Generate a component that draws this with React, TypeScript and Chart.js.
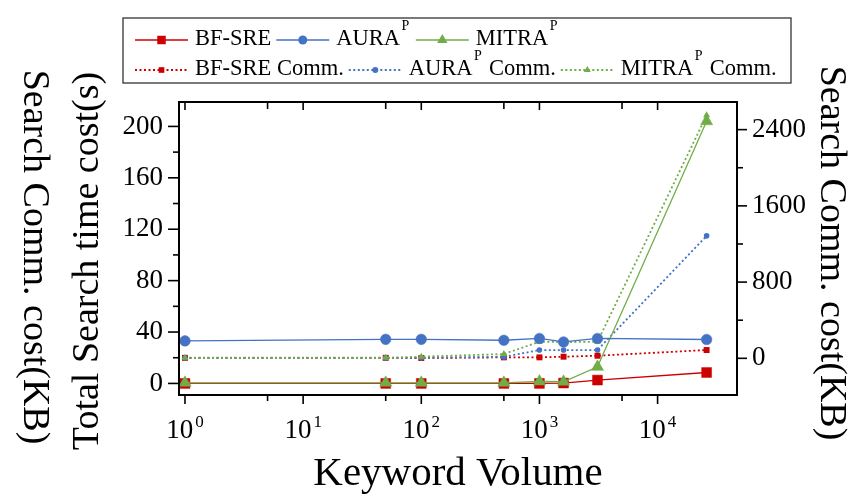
import React, { useEffect, useRef } from "react";
import { Chart, registerables } from "chart.js";

Chart.register(...registerables);

// ---- data ----
const keywordVolume = [1, 50, 100, 500, 1000, 1600, 3100, 26000];
const bfsreTime = [0, 0, 0, 0, 0, 0.3, 2.6, 8.5];
const auraTime = [33.1, 34.3, 34.3, 33.6, 35, 32.3, 35, 34.2];
const mitraTime = [0.5, 0.5, 0.5, 0.5, 1.5, 1.3, 12.9, 204];
const bfsreComm = [5, 5, 3, 10, 10, 17, 27, 87];
const auraComm = [5, 5, 5, 15, 87, 87, 87, 1285];
const mitraComm = [6, 6, 17, 45, 174, 170, 174, 2550];

const seriesLabels = ["BF-SRE", "AURA^P", "MITRA^P", "BF-SRE Comm.", "AURA^P Comm.", "MITRA^P Comm."];
const leftTicks = [0, 40, 80, 120, 160, 200];
const leftMinorTicks = [20, 60, 100, 140, 180];
const rightTicks = [0, 800, 1600, 2400];
const rightMinorTicks = [400, 1200, 2000];
const xMajorTicks = [1, 10, 100, 1000, 10000];
const xTickBase = "10";
const xTickExponents = ["0", "1", "2", "3", "4"];
const xMinorTicks = [5, 50, 500, 5000];
const xTitle = "Keyword Volume";
const leftTitle = "Total Search time cost(s)";
const rightTitle = "Search Comm. cost(KB)";

const FONT = '"Liberation Serif", "Times New Roman", serif';
const RED = "#cc0000";
const BLUE = "#4472c4";
const GREEN = "#70ad47";

const toXY = (ys: number[]) => ys.map((y, i) => ({ x: keywordVolume[i], y }));

function drawMarker(ctx: CanvasRenderingContext2D, style: string, x: number, y: number, r: number, color: string) {
  ctx.save();
  ctx.fillStyle = color;
  ctx.beginPath();
  if (style === "rect") {
    const s = r / Math.SQRT2;
    ctx.rect(x - s, y - s, 2 * s, 2 * s);
  } else if (style === "circle") {
    ctx.arc(x, y, r, 0, Math.PI * 2);
  } else {
    let rad = 0;
    ctx.moveTo(x + Math.sin(rad) * r, y - Math.cos(rad) * r);
    rad += (2 * Math.PI) / 3;
    ctx.lineTo(x + Math.sin(rad) * r, y - Math.cos(rad) * r);
    rad += (2 * Math.PI) / 3;
    ctx.lineTo(x + Math.sin(rad) * r, y - Math.cos(rad) * r);
    ctx.closePath();
  }
  ctx.fill();
  ctx.restore();
}

// draws text with "^X" superscripts; returns width
function drawRich(ctx: CanvasRenderingContext2D, text: string, x: number, y: number, size: number) {
  const parts: { t: string; sup: boolean }[] = [];
  const re = /\^(\w)/g;
  let last = 0;
  let m: RegExpExecArray | null;
  while ((m = re.exec(text))) {
    if (m.index > last) parts.push({ t: text.slice(last, m.index), sup: false });
    parts.push({ t: m[1], sup: true });
    last = m.index + m[0].length;
  }
  if (last < text.length) parts.push({ t: text.slice(last), sup: false });
  let cx = x;
  for (const p of parts) {
    const fs = p.sup ? Math.round(size * 0.6) : size;
    ctx.font = `${fs}px ${FONT}`;
    const w = ctx.measureText(p.t).width;
    ctx.fillText(p.t, cx + (p.sup ? 1.5 : 0), p.sup ? y - size * 0.68 : y);
    cx += w + (p.sup ? 3 : 0);
  }
  return cx - x;
}

const decorPlugin = {
  id: "decor",
  afterDraw(chart: any) {
    const { ctx, chartArea: a, scales } = chart;
    const xs = scales.x, yl = scales.y, yr = scales.y1;
    ctx.save();
    ctx.strokeStyle = "#000";
    ctx.fillStyle = "#000";
    // frame
    ctx.lineWidth = 2;
    ctx.strokeRect(a.left, a.top, a.right - a.left, a.bottom - a.top);
    const seg = (x1: number, y1: number, x2: number, y2: number) => {
      ctx.beginPath();
      ctx.moveTo(x1, y1);
      ctx.lineTo(x2, y2);
      ctx.stroke();
    };
    ctx.lineWidth = 1.6;
    xMajorTicks.forEach((v) => {
      const px = xs.getPixelForValue(v);
      seg(px, a.bottom, px, a.bottom + 9);
      seg(px, a.top, px, a.top + 8);
    });
    xMinorTicks.forEach((v) => {
      const px = xs.getPixelForValue(v);
      seg(px, a.bottom, px, a.bottom + 6);
      seg(px, a.top, px, a.top + 7);
    });
    leftTicks.forEach((v) => {
      const py = yl.getPixelForValue(v);
      seg(a.left - 11, py, a.left, py);
    });
    leftMinorTicks.forEach((v) => {
      const py = yl.getPixelForValue(v);
      seg(a.left - 6, py, a.left, py);
    });
    rightTicks.forEach((v) => {
      const py = yr.getPixelForValue(v);
      seg(a.right, py, a.right + 10, py);
    });
    rightMinorTicks.forEach((v) => {
      const py = yr.getPixelForValue(v);
      seg(a.right, py, a.right + 6, py);
    });

    // x tick labels with superscripts
    ctx.textBaseline = "alphabetic";
    ctx.textAlign = "left";
    xMajorTicks.forEach((v, i) => {
      const px = xs.getPixelForValue(v);
      ctx.font = `27px ${FONT}`;
      const wb = ctx.measureText(xTickBase).width;
      ctx.font = `17px ${FONT}`;
      const we = ctx.measureText(xTickExponents[i]).width;
      const total = wb + 2 + we;
      const sx = px - total / 2;
      ctx.font = `27px ${FONT}`;
      ctx.fillText(xTickBase, sx, 438);
      ctx.font = `17px ${FONT}`;
      ctx.fillText(xTickExponents[i], sx + wb + 2, 427);
    });

    // axis titles
    ctx.textAlign = "center";
    ctx.textBaseline = "alphabetic";
    ctx.save();
    ctx.translate((a.left + a.right) / 2, 485);
    ctx.scale(1.05, 1);
    ctx.font = `39px ${FONT}`;
    ctx.fillText(xTitle, 0, 0);
    ctx.restore();

    ctx.font = `38px ${FONT}`;
    ctx.textBaseline = "middle";
    ctx.save();
    ctx.translate(88, 261);
    ctx.rotate(-Math.PI / 2);
    ctx.fillText(leftTitle, 0, 0);
    ctx.restore();

    ctx.save();
    ctx.translate(34, 257);
    ctx.rotate(Math.PI / 2);
    ctx.fillText(rightTitle, 0, 0);
    ctx.restore();

    ctx.save();
    ctx.translate(831, 253);
    ctx.rotate(Math.PI / 2);
    ctx.fillText(rightTitle, 0, 0);
    ctx.restore();

    // legend
    const bx = 123, by = 18, bw = 668, bh = 65;
    ctx.lineWidth = 1.3;
    ctx.strokeStyle = "#333";
    ctx.strokeRect(bx, by, bw, bh);
    const rows = [
      { y: 40, items: [0, 1, 2] },
      { y: 70, items: [3, 4, 5] },
    ];
    const fsz = 22.5;
    rows.forEach((row) => {
      let cx = 135;
      row.items.forEach((di) => {
        const ds = chart.data.datasets[di];
        const lineLen = 53;
        ctx.save();
        ctx.strokeStyle = ds.borderColor;
        ctx.lineWidth = ds.borderWidth;
        ctx.setLineDash(ds.borderDash || []);
        seg(cx, row.y, cx + lineLen, row.y);
        ctx.restore();
        const mr = di < 3 ? (ds.pointStyle === "circle" ? 4.5 : 6) : (ds.pointStyle === "circle" ? 3 : 4);
        drawMarker(ctx, ds.pointStyle, cx + lineLen / 2, row.y, mr, ds.pointBackgroundColor);
        cx += lineLen + 7;
        ctx.fillStyle = "#000";
        ctx.textAlign = "left";
        ctx.textBaseline = "alphabetic";
        const w = drawRich(ctx, seriesLabels[di], cx, row.y + 5, fsz);
        cx += w + 5;
      });
    });
    ctx.restore();
  },
};

export default function App() {
  const ref = useRef<HTMLCanvasElement | null>(null);
  useEffect(() => {
    if (!ref.current) return;
    const common = { showLine: true, fill: false, tension: 0 };
    const chart = new Chart(ref.current, {
      type: "scatter",
      data: {
        datasets: [
          { ...common, label: seriesLabels[0], data: toXY(bfsreTime), yAxisID: "y", borderColor: RED, pointBackgroundColor: RED, pointBorderColor: RED, borderWidth: 1.3, pointStyle: "rect", pointRadius: 7, pointBorderWidth: 0.5, order: 2 },
          { ...common, label: seriesLabels[1], data: toXY(auraTime), yAxisID: "y", borderColor: BLUE, pointBackgroundColor: BLUE, pointBorderColor: BLUE, borderWidth: 1.3, pointStyle: "circle", pointRadius: 5.3, pointBorderWidth: 0.5, order: 0 },
          { ...common, label: seriesLabels[2], data: toXY(mitraTime), yAxisID: "y", borderColor: GREEN, pointBackgroundColor: GREEN, pointBorderColor: GREEN, borderWidth: 1.3, pointStyle: "triangle", pointRadius: 7, pointBorderWidth: 0.5, order: 1 },
          { ...common, label: seriesLabels[3], data: toXY(bfsreComm), yAxisID: "y1", borderColor: RED, pointBackgroundColor: RED, pointBorderColor: RED, borderWidth: 1.8, borderDash: [2, 2.5], pointStyle: "rect", pointRadius: 4.2, pointBorderWidth: 0, order: 5 },
          { ...common, label: seriesLabels[4], data: toXY(auraComm), yAxisID: "y1", borderColor: BLUE, pointBackgroundColor: BLUE, pointBorderColor: BLUE, borderWidth: 1.8, borderDash: [2, 2.5], pointStyle: "circle", pointRadius: 2.8, pointBorderWidth: 0, order: 4 },
          { ...common, label: seriesLabels[5], data: toXY(mitraComm), yAxisID: "y1", borderColor: GREEN, pointBackgroundColor: GREEN, pointBorderColor: GREEN, borderWidth: 1.8, borderDash: [2, 2.5], pointStyle: "triangle", pointRadius: 4, pointBorderWidth: 0, order: 3 },
        ] as any,
      },
      options: {
        animation: false,
        responsive: false,
        layout: { padding: { top: 102, left: 0, right: 0, bottom: 0 } },
        plugins: { legend: { display: false }, tooltip: { enabled: false } },
        scales: {
          x: {
            type: "logarithmic",
            min: 0.89,
            max: 47000,
            position: "bottom",
            grid: { display: false, drawTicks: false },
            border: { display: false },
            ticks: { display: false },
            afterFit: (s: any) => { s.height = 99; },
          },
          y: {
            type: "linear",
            position: "left",
            min: -9,
            max: 219,
            afterBuildTicks: (s: any) => { s.ticks = leftTicks.map((v) => ({ value: v })); },
            ticks: { font: { family: FONT, size: 27 }, color: "#000", padding: 16, autoSkip: false, callback: (v: any) => String(v) },
            grid: { display: false, drawTicks: false },
            border: { display: false },
            afterFit: (s: any) => { s.width = 179; },
          },
          y1: {
            type: "linear",
            position: "right",
            min: -385,
            max: 2690,
            afterBuildTicks: (s: any) => { s.ticks = rightTicks.map((v) => ({ value: v })); },
            ticks: { font: { family: FONT, size: 27 }, color: "#000", padding: 15, autoSkip: false, callback: (v: any) => String(v) },
            grid: { display: false, drawTicks: false },
            border: { display: false },
            afterFit: (s: any) => { s.width = 112; },
          },
        } as any,
      },
      plugins: [decorPlugin],
    });
    return () => chart.destroy();
  }, []);
  return (
    <div style={{ position: "absolute", left: 0, top: 0, width: 849, height: 494, background: "#fff" }}>
      <canvas ref={ref} width={849} height={494} style={{ display: "block" }} />
    </div>
  );
}
